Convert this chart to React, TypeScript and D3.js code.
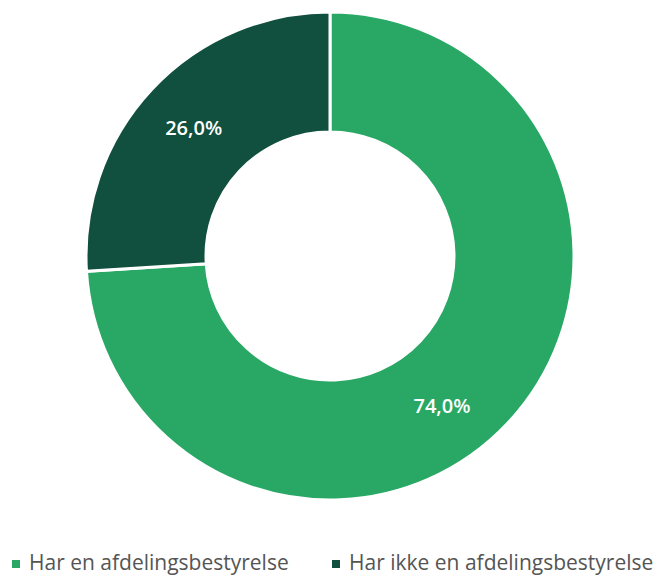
import { useEffect, useRef } from 'react';
import * as d3 from 'd3';

const categories = ['Har en afdelingsbestyrelse', 'Har ikke en afdelingsbestyrelse'];
const values = [74.0, 26.0];
const colors = ['#28a864', '#114f3e'];

function App() {
  const svgRef = useRef<SVGSVGElement | null>(null);
  const width = 659;
  const height = 575;
  const cx = 330;
  const cy = 256;
  const outer = 244;
  const inner = 124;

  useEffect(() => {
    const svg = d3.select(svgRef.current);
    svg.selectAll('*').remove();

    const pie = d3
      .pie<number>()
      .sort(null)
      .startAngle(0)
      .endAngle(2 * Math.PI)
      .value((d) => d);
    const arcs = pie(values);
    const arc = d3.arc<d3.PieArcDatum<number>>().innerRadius(inner).outerRadius(outer);

    const g = svg.append('g').attr('transform', `translate(${cx},${cy})`);
    g.selectAll('path')
      .data(arcs)
      .join('path')
      .attr('d', arc)
      .attr('fill', (_, i) => colors[i])
      .attr('stroke', '#fff')
      .attr('stroke-width', 3)
      .attr('stroke-linejoin', 'miter');

    // labels sit near the ring middle; the big slice's label is pulled toward the bottom
    const labelR = 187;
    g.selectAll('text')
      .data(arcs)
      .join('text')
      .attr('transform', (d) => {
        let a = (d.startAngle + d.endAngle) / 2;
        if (d.endAngle - d.startAngle > Math.PI) a += (10 * Math.PI) / 180;
        return `translate(${labelR * Math.sin(a)},${-labelR * Math.cos(a)})`;
      })
      .attr('text-anchor', 'middle')
      .attr('dy', '0.35em')
      .attr('fill', '#fff')
      .attr('font-family', '"Open Sans", sans-serif')
      .attr('font-size', 20)
      .attr('font-weight', 600)
      .text((d) => d.data.toFixed(1).replace('.', ',') + '%');

    const legend = svg.append('g').attr('font-family', '"Open Sans", sans-serif');
    const xs = [12, 332];
    categories.forEach((c, i) => {
      const item = legend.append('g').attr('transform', `translate(${xs[i]},570)`);
      item.append('rect').attr('x', 0).attr('y', -10).attr('width', 8).attr('height', 8).attr('fill', colors[i]);
      item
        .append('text')
        .attr('x', 17)
        .attr('y', 0)
        .attr('font-size', 21)
        .attr('fill', '#555')
        .text(c);
    });
  }, []);

  return (
    <svg
      ref={svgRef}
      width={width}
      height={height}
      style={{ position: 'absolute', left: 0, top: 0, display: 'block' }}
    />
  );
}

export default App;
